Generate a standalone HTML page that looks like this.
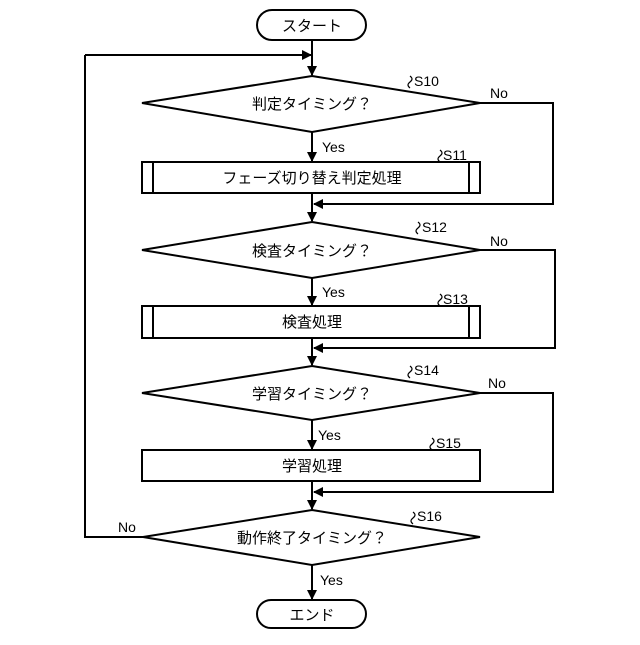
<!DOCTYPE html>
<html><head><meta charset="utf-8"><style>
html,body{margin:0;padding:0;background:#fff;}
svg text{font-family:"Liberation Sans","Noto Sans CJK JP",sans-serif;fill:#000;}
</style></head><body>
<svg width="640" height="640" viewBox="0 0 640 640" xmlns="http://www.w3.org/2000/svg">
<defs><marker id="a" markerWidth="10" markerHeight="10" refX="9" refY="5" orient="auto" markerUnits="userSpaceOnUse"><path d="M0,0 L10,5 L0,10 z" fill="#000"/></marker></defs>
<g stroke="#000" stroke-width="2" fill="none">
<rect x="257" y="10" width="109" height="30" rx="15" fill="#fff"/>
<line x1="312" y1="40" x2="312" y2="75" marker-end="url(#a)"/>
<line x1="85" y1="55" x2="311" y2="55" marker-end="url(#a)"/>
<polygon points="312,76 480,103 312,132 142,103" fill="#fff"/>
<line x1="312" y1="132" x2="312" y2="161" marker-end="url(#a)"/>
<polyline points="480,103 553,103 553,204 314,204" marker-end="url(#a)"/>
<rect x="142" y="162" width="338" height="31" fill="#fff"/>
<line x1="153" y1="162" x2="153" y2="193"/><line x1="469" y1="162" x2="469" y2="193"/>
<line x1="312" y1="193" x2="312" y2="221" marker-end="url(#a)"/>
<polygon points="312,222 480,250 312,278 142,250" fill="#fff"/>
<line x1="312" y1="278" x2="312" y2="305" marker-end="url(#a)"/>
<polyline points="480,250 555,250 555,348 314,348" marker-end="url(#a)"/>
<rect x="142" y="306" width="338" height="32" fill="#fff"/>
<line x1="153" y1="306" x2="153" y2="338"/><line x1="469" y1="306" x2="469" y2="338"/>
<line x1="312" y1="338" x2="312" y2="365" marker-end="url(#a)"/>
<polygon points="312,366 480,393 312,420 142,393" fill="#fff"/>
<line x1="312" y1="420" x2="312" y2="449" marker-end="url(#a)"/>
<polyline points="480,393 553,393 553,492 314,492" marker-end="url(#a)"/>
<rect x="142" y="450" width="338" height="31" fill="#fff"/>
<line x1="312" y1="481" x2="312" y2="509" marker-end="url(#a)"/>
<polygon points="312,510 480,537 312,565 143,537" fill="#fff"/>
<polyline points="143,537 85,537 85,55"/>
<line x1="312" y1="565" x2="312" y2="599" marker-end="url(#a)"/>
<rect x="257" y="600" width="109" height="28" rx="14" fill="#fff"/>
</g>
<g stroke="#000" stroke-width="1.2" fill="none">
<path d="M410,88 q-4,-3 0,-6 q4,-3 0,-6"/>
<path d="M440,162 q-4,-3 0,-6 q4,-3 0,-6"/>
<path d="M418,234 q-4,-3 0,-6 q4,-3 0,-6"/>
<path d="M440,306 q-4,-3 0,-6 q4,-3 0,-6"/>
<path d="M410,378 q-4,-3 0,-6 q4,-3 0,-6"/>
<path d="M432,450 q-4,-3 0,-6 q4,-3 0,-6"/>
<path d="M413,524 q-4,-3 0,-6 q4,-3 0,-6"/>
</g>
<g font-size="15" text-anchor="middle">
<text x="312" y="31">スタート</text>
<text x="312" y="109">判定タイミング？</text>
<text x="312" y="183">フェーズ切り替え判定処理</text>
<text x="312" y="256">検査タイミング？</text>
<text x="312" y="327">検査処理</text>
<text x="312" y="399">学習タイミング？</text>
<text x="312" y="471">学習処理</text>
<text x="312" y="543">動作終了タイミング？</text>
<text x="312" y="620">エンド</text>
</g>
<g font-size="14">
<text x="414" y="86">S10</text><text x="443" y="160">S11</text>
<text x="422" y="232">S12</text><text x="443" y="304">S13</text>
<text x="414" y="375">S14</text><text x="436" y="448">S15</text>
<text x="417" y="521">S16</text>
<text x="322" y="152">Yes</text><text x="322" y="297">Yes</text>
<text x="318" y="440">Yes</text><text x="320" y="585">Yes</text>
<text x="490" y="98">No</text><text x="490" y="246">No</text>
<text x="488" y="388">No</text><text x="118" y="532">No</text>
</g>
</svg>
</body></html>
